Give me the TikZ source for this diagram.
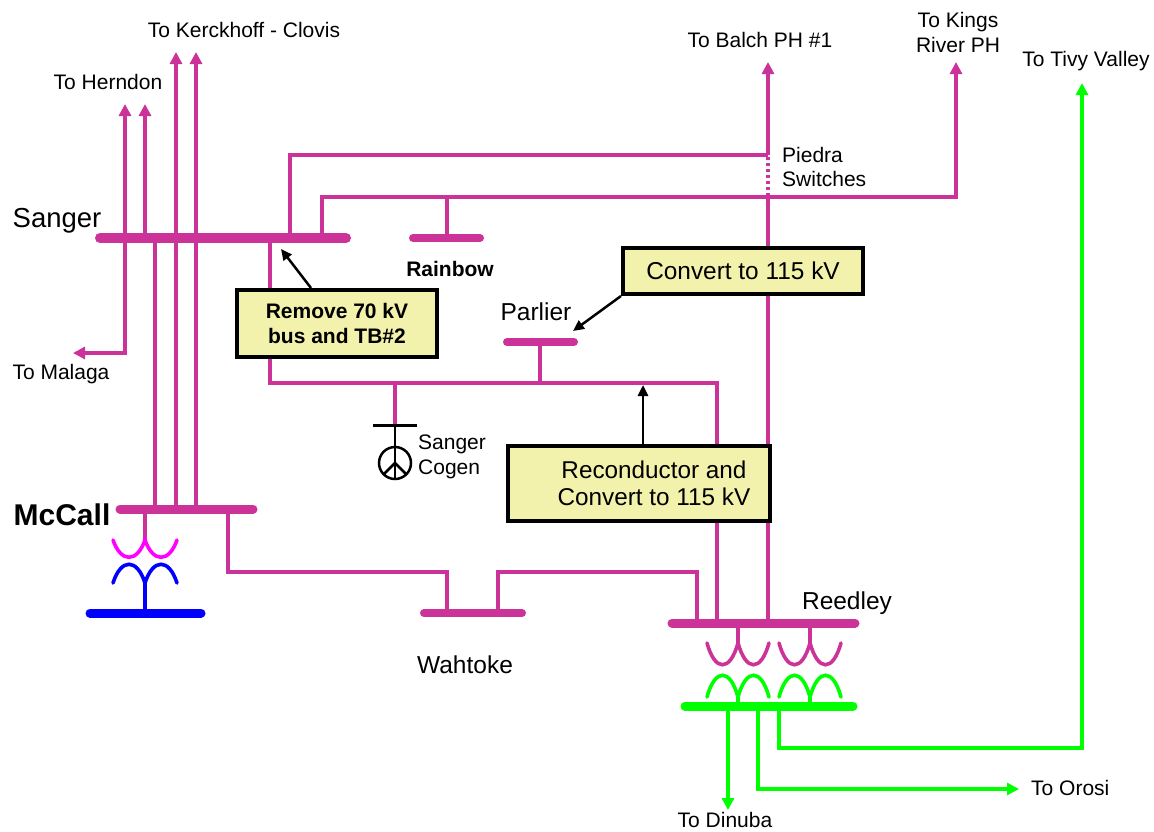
\documentclass[tikz,border=0pt]{standalone}
\usepackage{fontspec}
\setmainfont{Liberation Sans}
\usetikzlibrary{arrows.meta}
\definecolor{mag}{RGB}{204,51,153}
\definecolor{brightmag}{RGB}{255,0,255}
\definecolor{blu}{RGB}{0,0,255}
\definecolor{grn}{RGB}{0,255,0}
\definecolor{boxfill}{RGB}{242,242,172}
\begin{document}
\begin{tikzpicture}[x=1pt,y=-1pt,
  line/.style={mag,line width=3.2pt},
  gline/.style={grn,line width=4pt},
  bus/.style={mag,line width=9pt,line cap=round},
  wind/.style={line width=3.6pt,line cap=round},
  tip/.style={-{Triangle[length=12pt,width=12pt]}},
  btip/.style={black,line width=2.5pt,-{Triangle[length=11pt,width=10pt]}},
  lbl/.style={font=\fontsize{21}{24}\selectfont,inner sep=0pt,align=center},
  biglbl/.style={font=\fontsize{24.5}{28}\selectfont,inner sep=0pt,align=center},
  blbl/.style={font=\fontsize{21}{25}\selectfont\bfseries,inner sep=0pt,align=center},
  box/.style={draw=black,line width=4pt,fill=boxfill,inner sep=0pt,align=center}
]
\useasboundingbox (0,0) rectangle (1154,831);

% ---------- coordinates ----------
\coordinate (sgW) at (100,238); \coordinate (sgE) at (346,238);
\coordinate (mcW) at (120,509); \coordinate (mcE) at (253,509);
\coordinate (rbW) at (413,238); \coordinate (rbE) at (480,238);
\coordinate (plW) at (507,342); \coordinate (plE) at (574,342);
\coordinate (wtW) at (424,613); \coordinate (wtE) at (522,613);
\coordinate (rdW) at (672,623); \coordinate (rdE) at (855,623);
\coordinate (gbW) at (685,706); \coordinate (gbE) at (853,706);
\coordinate (bbW) at (90,613);  \coordinate (bbE) at (201,613);

\coordinate (herA) at (125,104); \coordinate (herB) at (145,104);
\coordinate (kerA) at (176,52);  \coordinate (kerB) at (196,52);
\coordinate (malaga) at (73,353);
\coordinate (balch) at (768,62);
\coordinate (kings) at (956,62);
\coordinate (tivy) at (1082,83);
\coordinate (orosi) at (1019,789);
\coordinate (dinuba) at (728,810);

% ---------- magenta lines ----------
\draw[line,{Triangle[length=12pt,width=12pt]}-{Triangle[length=12pt,width=12pt]}] (malaga) -| (herA);
\draw[line,tip] (145,238) -- (herB);
\draw[line,tip] (176,509) -- (kerA);
\draw[line,tip] (196,509) -- (kerB);
\draw[line] (155,238) -- (155,509);
\draw[line] (270,238) -- (270,383) -- (717,383) -- (717,623);
\draw[line] (290,238) -- (290,155) -- (768,155);
\draw[line,tip] (322,238) -- (322,197) -- (956,197) -- (kings);
\draw[line] (447,238) -- (447,197);
\draw[line] (768,623) -- (768,197);
\draw[line,dash pattern=on 3pt off 3pt] (768,196) -- (768,157);
\draw[line,tip] (768,155) -- (balch);
\draw[line] (540,342) -- (540,383);
\draw[line] (228,509) -- (228,572) -- (447,572) -- (447,613);
\draw[line] (498,613) -- (498,572) -- (697,572) -- (697,623);
\draw[line] (395,383) -- (395,425);

% ---------- buses ----------
\draw[bus,line width=10pt] (sgW) -- (sgE);
\draw[bus] (mcW) -- (mcE);
\draw[bus,line width=8pt] (rbW) -- (rbE);
\draw[bus,line width=8pt] (plW) -- (plE);
\draw[bus,line width=8pt] (wtW) -- (wtE);
\draw[bus] (rdW) -- (rdE);
\draw[bus,grn] (gbW) -- (gbE);
\draw[bus,blu] (bbW) -- (bbE);

% ---------- McCall transformer ----------
\draw[line] (145,509) -- (145,540);
\draw[wind,brightmag] (113,540) .. controls (121,563) and (137,563) .. (145,540)
   .. controls (153,563) and (169,563) .. (177,540);
\draw[wind,blu] (113,583) .. controls (121,558) and (137,558) .. (145,583)
   .. controls (153,558) and (169,558) .. (177,583);
\draw[blu,line width=3.6pt] (145,582) -- (145,613);

% ---------- Reedley transformers ----------
\draw[line] (738,623) -- (738,643);
\draw[line] (810,623) -- (810,643);
\foreach \c in {738,810}{
  \draw[wind,mag] (\c-31,643) .. controls (\c-23,672) and (\c-8,672) .. (\c,643)
     .. controls (\c+8,672) and (\c+23,672) .. (\c+31,643);
  \draw[wind,grn] (\c-31,697) .. controls (\c-23,668) and (\c-8,668) .. (\c,697)
     .. controls (\c+8,668) and (\c+23,668) .. (\c+31,697);
  \draw[grn,line width=3.6pt] (\c,696) -- (\c,706);
}

% ---------- green lines ----------
\draw[gline,tip] (728,706) -- (dinuba);
\draw[gline,tip] (758,706) -- (758,789) -- (orosi);
\draw[gline,tip] (779,706) -- (779,748) -- (1082,748) -- (tivy);

% ---------- Sanger Cogen ----------
\draw[black,line width=3pt] (373,425) -- (417,425);
\draw[black,line width=2.5pt] (395,425) -- (395,447);
\draw[black,line width=2.5pt] (395,463) circle (16);
\draw[black,line width=2.5pt] (395,447) -- (395,479);
\draw[black,line width=2.5pt] (395,463) -- (383.7,474.3);
\draw[black,line width=2.5pt] (395,463) -- (406.3,474.3);

% ---------- boxes ----------
\node[box,blbl,minimum width=200pt,minimum height=67pt] (rm) at (337,323.5) {Remove 70 kV\\bus and TB\#2};
\node[box,font=\fontsize{24.4}{28}\selectfont,minimum width=240pt,minimum height=46pt] (cv) at (743,271) {Convert to 115 kV};
\node[box,font=\fontsize{24.3}{27}\selectfont,minimum width=262pt,minimum height=75pt] (rc) at (639,483.5) {\hspace*{30pt}Reconductor and\\\hspace*{30pt}Convert to 115 kV};

\coordinate (rmT) at (281,249);
\coordinate (cvT) at (573,331);
\coordinate (rcT) at (643,385);
\draw[btip] ([xshift=-26pt]rm.north) -- (rmT);
\draw[btip] (cv.south west) -- (cvT);
\draw[btip] ([xshift=4pt]rc.north) -- (rcT);

% ---------- labels ----------
\node[lbl] (lker) at (244,30) {To Kerckhoff - Clovis};
\node[lbl] (lher) at (108,82) {To Herndon};
\node[lbl,font=\fontsize{27.5}{30}\selectfont] (lsang) at (57,221) {Sanger};
\node[lbl] (lmal) at (61,374) {To Malaga};
\node[blbl,font=\fontsize{30}{34}\selectfont\bfseries] (lmc) at (62,515) {McCall};
\node[blbl] (lrb) at (450,269) {Rainbow};
\node[biglbl] (lpar) at (536,312) {Parlier};
\node[lbl,anchor=west,align=left,font=\fontsize{21}{25}\selectfont] (lcog) at (418,457) {Sanger\\Cogen};
\node[biglbl] (lwah) at (465,665) {Wahtoke};
\node[biglbl] (lree) at (847,603) {Reedley};
\node[lbl] (lbal) at (760,40) {To Balch PH \#1};
\node[lbl,font=\fontsize{21}{25}\selectfont] (lkin) at (958,32) {To Kings\\River PH};
\node[lbl] (ltiv) at (1086,61) {To Tivy Valley};
\node[lbl,anchor=west,align=left] (lpie) at (782,167) {Piedra\\Switches};
\node[lbl,anchor=west] (loro) at (1031,788) {To Orosi};
\node[lbl] (ldin) at (725,820) {To Dinuba};
\end{tikzpicture}
\end{document}
